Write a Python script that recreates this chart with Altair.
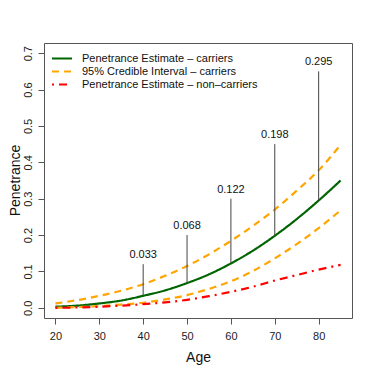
import altair as alt
import pandas as pd

ages = [20, 25, 30, 35, 40, 45, 50, 55, 60, 65, 70, 75, 80, 85]
carriers = [0.003, 0.006, 0.012, 0.020, 0.033, 0.048, 0.068, 0.092, 0.122, 0.157, 0.198, 0.244, 0.295, 0.350]
ci_upper = [0.012, 0.021, 0.033, 0.047, 0.065, 0.088, 0.115, 0.147, 0.184, 0.225, 0.270, 0.322, 0.378, 0.448]
ci_lower = [0.000, 0.002, 0.005, 0.009, 0.014, 0.023, 0.035, 0.052, 0.073, 0.101, 0.136, 0.175, 0.219, 0.268]
noncarriers = [0.000, 0.001, 0.003, 0.006, 0.010, 0.015, 0.022, 0.032, 0.044, 0.058, 0.075, 0.090, 0.105, 0.118]

annot_ages = [40, 50, 60, 70, 80]
annot_values = [0.033, 0.068, 0.122, 0.198, 0.295]
annot_tops = [0.12, 0.20, 0.30, 0.45, 0.65]
annot_labels = ["0.033", "0.068", "0.122", "0.198", "0.295"]

x_ticks = [20, 30, 40, 50, 60, 70, 80]
y_ticks = [0, 0.1, 0.2, 0.3, 0.4, 0.5, 0.6, 0.7]

s_car = "Penetrance Estimate \u2013 carriers"
s_ci = "95% Credible Interval \u2013 carriers"
s_non = "Penetrance Estimate \u2013 non\u2013carriers"
series_order = [s_car, s_ci, s_non]

rows = []
for name, ser, vals in [("car", s_car, carriers), ("up", s_ci, ci_upper),
                        ("low", s_ci, ci_lower), ("non", s_non, noncarriers)]:
    for a, v in zip(ages, vals):
        rows.append({"age": a, "value": v, "series": ser, "line": name})
df = pd.DataFrame(rows)

ann = pd.DataFrame({"age": annot_ages, "value": annot_values, "top": annot_tops, "label": annot_labels})

xs = alt.Scale(domain=[17.4, 87.6], nice=False, zero=False)
ys = alt.Scale(domain=[-0.028, 0.728], nice=False, zero=False)

font = "Liberation Sans"

x_axis = alt.Axis(values=x_ticks, format="d", title="Age", labelPadding=6, titlePadding=9)
y_axis = alt.Axis(values=y_ticks, format=".1f", title="Penetrance",
                  labelAngle=-90, labelAlign="center", labelBaseline="bottom",
                  labelOverlap=False, labelPadding=5,
                  titleX=-36, titleY=137, titleAngle=-90, titleAlign="center", titleBaseline="top")

legend_kw = dict(title=None, orient="none", legendX=7, legendY=9, padding=0,
                 symbolType="stroke", symbolSize=400, symbolStrokeWidth=2,
                 labelFontSize=11, labelFont=font, labelColor="#111",
                 labelOffset=9, rowPadding=0, clipHeight=13, labelLimit=300)

lines = alt.Chart(df).mark_line(strokeWidth=2.2, interpolate="monotone").encode(
    x=alt.X("age:Q", scale=xs, axis=x_axis),
    y=alt.Y("value:Q", scale=ys, axis=y_axis),
    color=alt.Color("series:N", scale=alt.Scale(domain=series_order, range=["#006400", "#FFA500", "#FF0000"]),
                    legend=alt.Legend(**legend_kw)),
    strokeDash=alt.StrokeDash("series:N", scale=alt.Scale(domain=series_order, range=[[1, 0], [7, 5], [2, 5, 8, 5]]),
                              legend=alt.Legend(**legend_kw)),
    detail="line:N",
)

rules = alt.Chart(ann).mark_rule(color="#444", strokeWidth=1).encode(
    x=alt.X("age:Q", scale=xs, axis=x_axis), y=alt.Y("value:Q", scale=ys, axis=y_axis), y2="top:Q"
)

texts = alt.Chart(ann).mark_text(fontSize=11, font=font, color="#111", baseline="bottom", dy=-4).encode(
    x=alt.X("age:Q", scale=xs, axis=x_axis), y=alt.Y("top:Q", scale=ys, axis=y_axis), text="label:N"
)

chart = alt.layer(lines, rules, texts).properties(
    width=308, height=275,
    autosize=alt.AutoSizeParams(type="none"),
    padding={"left": 36, "top": 35, "right": 14, "bottom": 48},
).configure_view(stroke="#555", strokeWidth=1).configure_axis(
    domain=False, grid=False, tickColor="#555", tickSize=6,
    labelFont=font, labelFontSize=11, labelColor="#222",
    titleFont=font, titleFontSize=14, titleFontWeight="normal", titleColor="#111",
)

chart.save("out.html", embed_options={"renderer": "svg", "actions": False})
